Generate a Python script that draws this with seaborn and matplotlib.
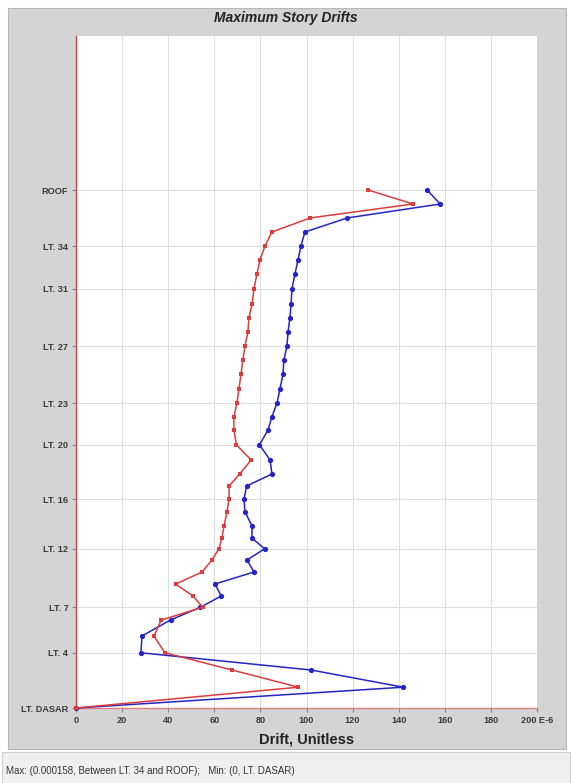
import matplotlib
matplotlib.use('Agg')
import matplotlib.pyplot as plt
import seaborn as sns
import pandas as pd
from matplotlib.patches import Rectangle

# story levels, bottom to top
story_names = ['LT. DASAR', 'LT. 2', 'LT. 3', 'LT. 4', 'LT. 5', 'LT. 6', 'LT. 7', 'LT. 8',
               'LT. 9', 'LT. 10', 'LT. 11', 'LT. 12', 'LT. 13', 'LT. 14', 'LT. 15', 'LT. 16',
               'LT. 17', 'LT. 18', 'LT. 19', 'LT. 20', 'LT. 21', 'LT. 22', 'LT. 23', 'LT. 24',
               'LT. 25', 'LT. 26', 'LT. 27', 'LT. 28', 'LT. 29', 'LT. 30', 'LT. 31', 'LT. 32',
               'LT. 33', 'LT. 34', 'LT. 35', 'LT. 36', 'LT. 37', 'ROOF']
elevation = [0, 5.2, 9.5, 13.8, 18.0, 22.0, 25.2, 28.0, 31.0, 34.0, 37.0, 39.8, 42.5, 45.5,
             49.0, 52.2, 55.5, 58.5, 62.0, 65.8, 69.5, 72.8, 76.2, 79.8, 83.5, 87.0, 90.5,
             94.0, 97.5, 101.0, 104.8, 108.5, 112.0, 115.5, 119.0, 122.5, 126.0, 129.5]

# drift values in E-6
drift_blue = [0, 142, 102, 28.2, 28.6, 41, 54, 63, 60.3, 77.2, 74.2, 81.8, 76.3, 76.4, 73.3,
              72.9, 74, 85, 84.2, 79.6, 83.3, 85, 87.2, 88.5, 89.8, 90.2, 91.5, 92, 92.8,
              93.3, 93.7, 95, 96.3, 97.6, 99.3, 117.6, 158, 152.3]
drift_red = [0, 96.5, 67.7, 38.6, 33.8, 37, 55, 50.7, 43.2, 54.7, 59, 62, 63.3, 64.2, 65.5,
             66.4, 66.4, 71, 76, 69.6, 68.5, 68.5, 69.8, 70.7, 71.6, 72.4, 73.3, 74.6, 75,
             76.4, 77.2, 78.5, 79.8, 82, 85, 101.5, 146.2, 126.7]

shown_stories = ['LT. DASAR', 'LT. 4', 'LT. 7', 'LT. 12', 'LT. 16', 'LT. 20', 'LT. 23',
                 'LT. 27', 'LT. 31', 'LT. 34', 'ROOF']
x_ticks = [0, 20, 40, 60, 80, 100, 120, 140, 160, 180, 200]
x_tick_labels = ['0', '20', '40', '60', '80', '100', '120', '140', '160', '180', '200 E-6']

df = pd.DataFrame({'story': story_names, 'elev': elevation,
                   'blue': drift_blue, 'red': drift_red})

sns.set_style('white')
plt.rcParams['font.family'] = ['Liberation Sans', 'DejaVu Sans']

W, H = 572, 783
fig = plt.figure(figsize=(W / 100, H / 100), dpi=100)
fig.patch.set_facecolor('white')

# gray panel and status bar (behind the axes)
fig.patches.append(Rectangle((8 / W, 1 - 749 / H), 558 / W, 741 / H, transform=fig.transFigure,
                             facecolor='#d4d4d4', edgecolor='#b8b8b8', lw=0.8, zorder=-2))
fig.patches.append(Rectangle((2 / W, 0), 568 / W, 31 / H, transform=fig.transFigure,
                             facecolor='#f0f0f0', edgecolor='#d0d0d0', lw=0.8, zorder=-2))

ax = fig.add_axes([76 / W, 1 - 708 / H, 461 / W, 672 / H])
ax.set_facecolor('white')

sns.lineplot(data=df, x='blue', y='elev', sort=False, estimator=None, ax=ax,
             color='#2424c8', lw=1.1, marker='o', markersize=3.8,
             markeredgewidth=0, clip_on=False, zorder=3)
sns.lineplot(data=df, x='red', y='elev', sort=False, estimator=None, ax=ax,
             color='#dc3c3c', lw=1.1, marker='s', markersize=3.2,
             markeredgewidth=0, clip_on=False, zorder=4)

ax.set_xlim(0, 200)
ax.set_ylim(0, 168)

ytick_pos = [elevation[story_names.index(s)] for s in shown_stories]
ax.set_yticks(ytick_pos)
ax.set_yticklabels(shown_stories)
ax.set_xticks(x_ticks)
ax.set_xticklabels(x_tick_labels)

ax.grid(True, color='#dedede', lw=0.8)
ax.set_axisbelow(True)
ax.tick_params(axis='both', which='both', direction='out', length=3, width=0.8,
               color='#888888', labelsize=6.6, labelcolor='#3a3a3a', pad=2.5,
               left=True, bottom=True)
for lab in ax.get_yticklabels() + ax.get_xticklabels():
    lab.set_fontweight('bold')

for side in ['top', 'right']:
    ax.spines[side].set_visible(False)
ax.spines['left'].set_color('#d04040')
ax.spines['bottom'].set_color('#e08080')
ax.spines['left'].set_linewidth(1.0)
ax.spines['bottom'].set_linewidth(1.0)

ax.set_xlabel('Drift, Unitless', fontsize=10.5, fontweight='bold', color='#222222', labelpad=6)
ax.set_ylabel('')

fig.text(0.5, 1 - 18 / H, 'Maximum Story Drifts', ha='center', va='center',
         fontsize=10, fontweight='bold', fontstyle='italic', color='#222222')
fig.text(6 / W, 1 - 771 / H, 'Max: (0.000158, Between LT. 34 and ROOF);   Min: (0, LT. DASAR)',
         ha='left', va='center', fontsize=7, color='#333333')

fig.savefig('out.png', dpi=100)
